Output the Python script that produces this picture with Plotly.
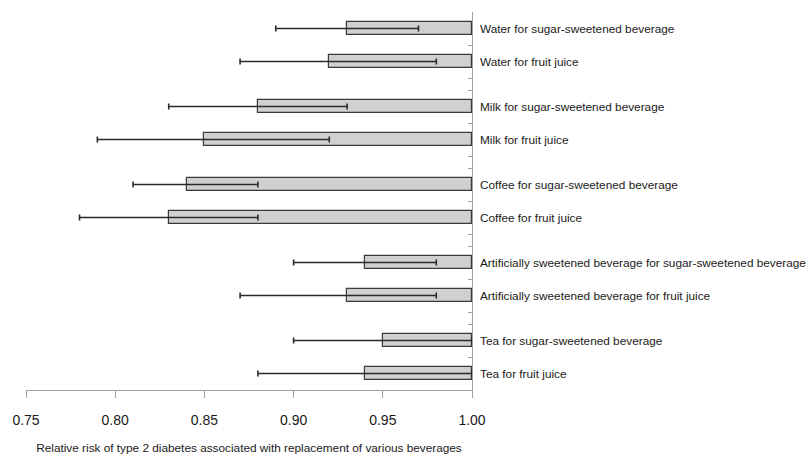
import plotly.graph_objects as go

labels = [
    "Water for sugar-sweetened beverage",
    "Water for fruit juice",
    "Milk for sugar-sweetened beverage",
    "Milk for fruit juice",
    "Coffee for sugar-sweetened beverage",
    "Coffee for fruit juice",
    "Artificially sweetened beverage for sugar-sweetened beverage",
    "Artificially sweetened beverage for fruit juice",
    "Tea for sugar-sweetened beverage",
    "Tea for fruit juice",
]
rr = [0.93, 0.92, 0.88, 0.85, 0.84, 0.83, 0.94, 0.93, 0.95, 0.94]
ci_low = [0.89, 0.87, 0.83, 0.79, 0.81, 0.78, 0.90, 0.87, 0.90, 0.88]
ci_high = [0.97, 0.98, 0.93, 0.92, 0.88, 0.88, 0.98, 0.98, 1.00, 1.00]
x_ticks = [0.75, 0.80, 0.85, 0.90, 0.95, 1.00]

# rows: groups of two bars, with a small gap between groups
GAP = 12 / 33
ypos = []
group_ticks = []
for i in range(len(labels)):
    g, j = divmod(i, 2)
    start = g * (2 + GAP)
    ypos.append(start + j + 0.5)
    if j == 0:
        group_ticks += [start, start + 1, start + 2]
y_max = 5 * 2 + 4 * GAP

FONT = "Liberation Sans, Arial, sans-serif"
TXT = "#1a1a1a"

fig = go.Figure()
fig.add_trace(go.Bar(
    y=ypos,
    x=[v - 1.0 for v in rr],
    base=1.0,
    orientation="h",
    width=0.4,
    marker=dict(color="#d0d0d0", line=dict(color="#3a3a3a", width=1.2)),
    showlegend=False,
    hoverinfo="skip",
))
fig.add_trace(go.Scatter(
    y=ypos,
    x=rr,
    mode="markers",
    marker=dict(size=1, color="rgba(0,0,0,0)"),
    error_x=dict(
        type="data",
        symmetric=False,
        array=[h - v for h, v in zip(ci_high, rr)],
        arrayminus=[v - l for v, l in zip(rr, ci_low)],
        color="#2a2a2a",
        thickness=1.6,
        width=3,
    ),
    showlegend=False,
    hoverinfo="skip",
))

for lab, y in zip(labels, ypos):
    fig.add_annotation(
        x=1.0, y=y, xref="x", yref="y",
        text=lab, showarrow=False,
        xanchor="left", yanchor="middle", xshift=6,
        font=dict(family=FONT, size=11.8, color=TXT),
    )

fig.update_layout(
    width=812, height=457,
    margin=dict(l=26, r=340, t=12, b=67, autoexpand=False),
    paper_bgcolor="white", plot_bgcolor="white",
    bargap=0,
    font=dict(family=FONT, size=12, color=TXT),
)
fig.update_xaxes(
    range=[0.75, 1.0],
    tickvals=x_ticks,
    ticktext=[f"{t:.2f}" for t in x_ticks],
    showgrid=False, zeroline=False,
    showline=True, linecolor="#a0a0a0", linewidth=1,
    ticks="outside", ticklen=7, tickcolor="#a0a0a0",
    ticklabelstandoff=10,
    tickfont=dict(family=FONT, size=14, color=TXT),
    automargin=False,
    title=dict(text="Relative risk of type 2 diabetes associated with replacement of various beverages",
               font=dict(family=FONT, size=11.8, color=TXT), standoff=16),
)
fig.update_yaxes(
    range=[y_max, 0],
    side="right",
    tickvals=group_ticks,
    showticklabels=False,
    showgrid=False, zeroline=False,
    showline=True, linecolor="#a0a0a0", linewidth=1,
    ticks="inside", ticklen=4, tickcolor="#a0a0a0",
    automargin=False,
)

fig.write_html("out.html", config={"displayModeBar": False},
               post_script="document.body.style.margin='0';")
